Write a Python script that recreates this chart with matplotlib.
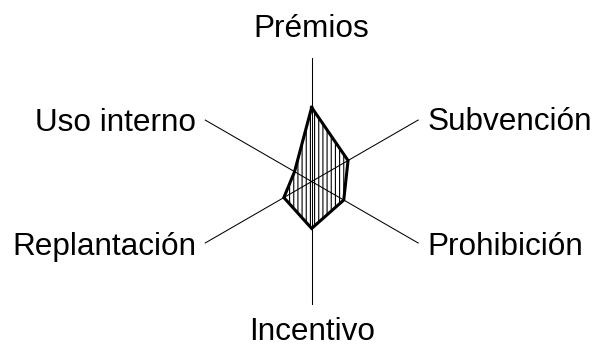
import numpy as np
import matplotlib
matplotlib.use("Agg")
import matplotlib.pyplot as plt

# datos del gráfico radar
categorias = ["Prémios", "Subvención", "Prohibición", "Incentivo", "Replantación", "Uso interno"]
valores = [3.0, 1.7, 1.5, 1.9, 1.3, 0.8]
escala_max = 5.0

plt.rcParams["font.family"] = ["Liberation Sans", "DejaVu Sans"]
plt.rcParams["hatch.linewidth"] = 0.8

fig = plt.figure(figsize=(5.94, 3.48), dpi=100)
ax = fig.add_axes([0.3168, 0.1235, 0.4158, 0.7098], projection="polar")
ax.set_theta_offset(np.pi / 2)
ax.set_theta_direction(-1)
ax.set_ylim(0, escala_max)
ax.grid(False)
ax.set_xticks([])
ax.set_yticks([])
ax.spines["polar"].set_visible(False)

angulos = np.linspace(0, 2 * np.pi, len(categorias), endpoint=False)

# ejes radiales
for a in angulos:
    ax.plot([a, a], [0, escala_max], color="black", lw=0.75, zorder=1)

# polígono con rayado vertical
ang_c = np.append(angulos, angulos[0])
val_c = np.append(valores, valores[0])
ax.fill(ang_c, val_c, facecolor="none", edgecolor="black", hatch="||||", lw=0, zorder=2)
ax.plot(ang_c, val_c, color="black", lw=2.2, zorder=3, solid_joinstyle="miter")

# etiquetas (desplazamiento en píxeles desde el extremo de cada eje)
desplaz = [(0, 21, "center"), (9, -10, "left"), (9, -12, "left"),
           (0, -35, "center"), (-8, -12, "right"), (-9, -11, "right")]
for a, nombre, (dx, dy, ha) in zip(angulos, categorias, desplaz):
    ax.annotate(nombre, xy=(a, escala_max), xytext=(dx, dy), textcoords="offset pixels",
                ha=ha, va="baseline", fontsize=22.7, color="black", annotation_clip=False)

fig.savefig("out.png", dpi=100)
